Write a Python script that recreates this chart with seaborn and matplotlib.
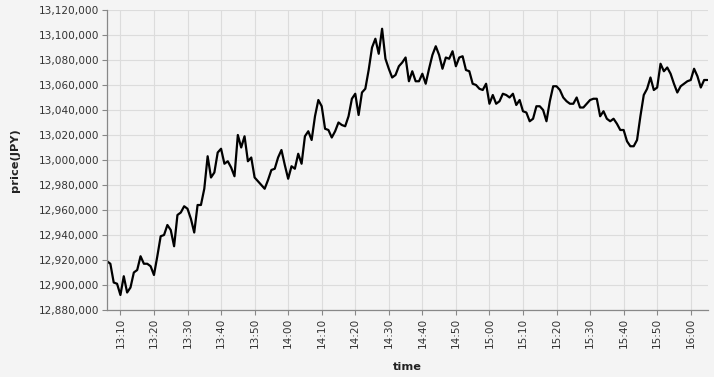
import matplotlib
matplotlib.use("Agg")
import matplotlib.pyplot as plt
import matplotlib.dates as mdates
import matplotlib.ticker as mticker
import numpy as np
import pandas as pd
import seaborn as sns

# ---- data (one point per minute from 13:06) ----
start_time = "2024-01-01 13:06"
prices = [
    12919, 12917, 12902, 12901, 12892, 12907, 12894, 12898, 12910, 12912,
    12923, 12917, 12917, 12915, 12908, 12923, 12939, 12940, 12948, 12944,
    12931, 12956, 12958, 12963, 12961, 12953, 12942, 12964, 12964, 12977,
    13003, 12986, 12990, 13006, 13009, 12997, 12999, 12994, 12987, 13020,
    13010, 13019, 12999, 13002, 12986, 12983, 12980, 12977, 12984, 12992,
    12993, 13002, 13008, 12996, 12985, 12995, 12993, 13005, 12997, 13019,
    13023, 13016, 13035, 13048, 13043, 13025, 13024, 13018, 13023, 13030,
    13028, 13027, 13035, 13049, 13053, 13036, 13054, 13057, 13072, 13090,
    13097, 13085, 13105, 13081, 13073, 13066, 13068, 13075, 13078, 13082,
    13063, 13071, 13063, 13063, 13069, 13061, 13073, 13084, 13091, 13084,
    13073, 13082, 13081, 13087, 13075, 13082, 13083, 13072, 13071, 13061,
    13060, 13057, 13056, 13061, 13045, 13052, 13045, 13047, 13053, 13052,
    13050, 13053, 13044, 13048, 13039, 13038, 13031, 13033, 13043, 13043,
    13040, 13031, 13047, 13059, 13059, 13056, 13050, 13047, 13045, 13045,
    13050, 13042, 13042, 13045, 13048, 13049, 13049, 13035, 13039, 13033,
    13031, 13033, 13029, 13024, 13024, 13015, 13011, 13011, 13016, 13035,
    13052, 13057, 13066, 13056, 13058, 13077, 13071, 13074, 13069, 13061,
    13054, 13059, 13061, 13063, 13064, 13073, 13067, 13058, 13064, 13064,
]
prices = [p * 1000 for p in prices]
y_min, y_max, y_step = 12880000, 13120000, 20000
x_label = "time"
y_label = "price(JPY)"

df = pd.DataFrame({
    "time": pd.date_range(start_time, periods=len(prices), freq="min"),
    "price": prices,
})

# ---- style ----
bg = "#f4f4f4"
grid_c = "#dcdcdc"
axis_c = "#888888"
sns.set_theme(style="whitegrid", rc={
    "figure.facecolor": bg,
    "axes.facecolor": bg,
    "grid.color": grid_c,
    "grid.linewidth": 0.8,
    "axes.edgecolor": axis_c,
    "axes.linewidth": 0.8,
})
plt.rcParams["font.family"] = ["DejaVu Sans"]

W, H = 714, 377
fig = plt.figure(figsize=(W / 100, H / 100), dpi=100)
L, R, T, B = 107, 707.5, 10, 310
ax = fig.add_axes([L / W, 1 - B / H, (R - L) / W, (B - T) / H])

sns.lineplot(data=df, x="time", y="price", color="black", linewidth=1.6, ax=ax)

ax.set_xlim(df["time"].iloc[0], df["time"].iloc[-1])
ax.set_ylim(y_min, y_max)
ax.yaxis.set_major_locator(mticker.MultipleLocator(y_step))
ax.yaxis.set_major_formatter(mticker.FuncFormatter(lambda v, p: f"{int(round(v)):,}"))
ax.xaxis.set_major_locator(mdates.MinuteLocator(byminute=range(0, 60, 10)))
ax.xaxis.set_major_formatter(mdates.DateFormatter("%H:%M"))

for s in ["top", "right"]:
    ax.spines[s].set_visible(False)
for s in ["left", "bottom"]:
    ax.spines[s].set_color(axis_c)
    ax.spines[s].set_linewidth(0.9)

ax.tick_params(axis="both", which="major", length=3.6, width=0.8, color=axis_c,
               labelsize=7.6, labelcolor="#333333", pad=2, bottom=True, left=True)
plt.setp(ax.get_xticklabels(), rotation=90, va="top", ha="center")
ax.grid(True, color=grid_c, linewidth=0.8)
ax.set_axisbelow(True)

ax.set_xlabel("")
ax.set_ylabel("")
fig.text(15 / W, 1 - 160 / H, y_label, rotation=90, ha="center", va="center",
         fontsize=8.2, fontweight="bold", color="#222222")
fig.text(407 / W, 1 - 367 / H, x_label, ha="center", va="center",
         fontsize=8.2, fontweight="bold", color="#222222")

fig.savefig("out.png", dpi=100, facecolor=bg)
